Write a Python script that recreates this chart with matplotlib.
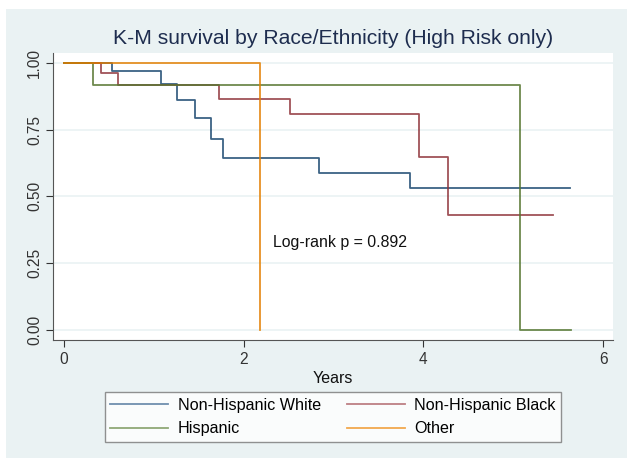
import matplotlib
matplotlib.use("Agg")
import matplotlib.pyplot as plt
from matplotlib.lines import Line2D
from matplotlib.patches import Rectangle

plt.rcParams['font.family'] = ['Liberation Sans', 'DejaVu Sans']

# step times (years) and survival after each step
white_t = [0, 0.53, 1.08, 1.26, 1.46, 1.64, 1.77, 2.84, 3.85, 5.63]
white_s = [1.0, 0.971, 0.92, 0.86, 0.795, 0.715, 0.644, 0.587, 0.533, 0.533]
black_t = [0, 0.41, 0.60, 1.73, 2.51, 3.95, 4.27, 5.44]
black_s = [1.0, 0.962, 0.917, 0.865, 0.809, 0.647, 0.431, 0.431]
hisp_t = [0, 0.32, 5.07, 5.64]
hisp_s = [1.0, 0.917, 0.0, 0.0]
other_t = [0, 2.18]
other_s = [1.0, 0.0]

labels = ["Non-Hispanic White", "Non-Hispanic Black", "Hispanic", "Other"]
colors = ["#1a476f", "#90353b", "#55752f", "#e37e00"]
legend_colors = ["#6f8fae", "#bd7f84", "#8fa877", "#f2a84e"]
bg = "#eaf2f3"

fig = plt.figure(figsize=(6.27, 4.58), dpi=100)
fig.patch.set_facecolor("white")
fig.patches.append(Rectangle((6 / 627, 0), 1, 1 - 9 / 458, transform=fig.transFigure,
                             facecolor=bg, edgecolor="none", zorder=-10))

ax = fig.add_axes([53 / 627, 1 - 340 / 458, 560 / 627, 287 / 458])
ax.set_facecolor("white")

series = [(white_t, white_s), (black_t, black_s), (hisp_t, hisp_s), (other_t, other_s)]
for (t, s), c in zip(series, colors):
    ax.step(t, s, where="post", color=c, lw=1.3, alpha=0.85)

ax.set_xlim(-0.122, 6.11)
ax.set_ylim(-0.0375, 1.037)
ax.set_xticks([0, 2, 4, 6])
ax.set_yticks([0, 0.25, 0.5, 0.75, 1.0])
ax.set_yticklabels(["0.00", "0.25", "0.50", "0.75", "1.00"], rotation=90, va="center")
ax.yaxis.grid(True, color=bg, lw=1.2)
ax.set_axisbelow(True)
for sp in ["top", "right"]:
    ax.spines[sp].set_visible(False)
for sp in ["left", "bottom"]:
    ax.spines[sp].set_color("#555555")
ax.tick_params(colors="#333333", labelsize=11.2, length=5)
ax.tick_params(axis="y", pad=3)
ax.set_xlabel("Years", fontsize=11.5, color="#111111", labelpad=3)

ax.text(2.33, 0.326, "Log-rank p = 0.892", fontsize=11.4, color="#111111", va="center")

fig.text(333 / 627, 1 - 39 / 458, "K-M survival by Race/Ethnicity (High Risk only)",
         ha="center", va="center", fontsize=15.2, color="#1e2d4f")

handles = [Line2D([], [], color=c, lw=1.3) for c in legend_colors]
order = [0, 2, 1, 3]
leg = fig.legend([handles[i] for i in order], [labels[i] for i in order], ncol=2,
                 loc="center", bbox_to_anchor=(333 / 627, 1 - 417 / 458),
                 fontsize=11.6, frameon=True, fancybox=False, edgecolor="#777777",
                 handlelength=3.6, handletextpad=0.6, columnspacing=1.6,
                 borderpad=0.33, labelspacing=0.55)
leg.get_frame().set_linewidth(1.0)

fig.savefig("out.png", dpi=100, facecolor=fig.get_facecolor())
